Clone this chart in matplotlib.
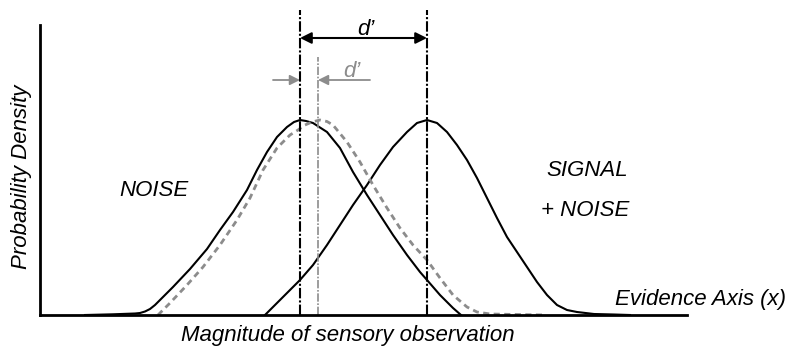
import matplotlib
matplotlib.use("Agg")
import matplotlib.pyplot as plt

plt.rcParams['font.family'] = ['Liberation Sans', 'DejaVu Sans']

# curves (x = evidence, y = density, arbitrary units)
noise_x = [85, 113, 135, 140, 145, 150, 155, 160, 166, 173, 190, 207, 220, 233, 247, 257, 267,
           277, 287, 294, 300, 306, 313, 327, 340, 353, 367, 380, 393, 407, 420, 427, 440,
           447, 453, 457, 461]
noise_y = [0, 0.7, 1.5, 2, 3.5, 6, 10, 15, 21, 28, 46, 66, 85, 103, 125, 145, 163,
           178, 188, 193, 195, 194, 192, 183, 167, 143, 120, 100, 80, 60, 43, 35, 20,
           13, 7, 3.5, 0]

shifted_x = [158, 170, 187, 203, 220, 237, 250, 263, 277, 290, 298, 305, 312, 320,
             327, 333, 347, 360, 373, 387, 400, 413, 427, 440, 453, 467, 477, 490, 517, 545]
shifted_y = [0, 12, 30, 48, 70, 95, 117, 145, 167, 180, 185, 190, 193, 195,
             193.5, 190, 173, 153, 130, 107, 87, 70, 55, 37, 20, 8, 3, 1, 0.5, 0]

signal_x = [265, 283, 300, 313, 327, 340, 353, 367, 380, 393, 407, 417, 427, 437, 447,
            457, 467, 477, 487, 497, 507, 517, 527, 537, 547, 557, 567, 577, 594, 614, 630]
signal_y = [0, 18, 35, 50, 70, 90, 110, 130, 150, 168, 183, 192, 195, 192, 183,
            170, 155, 137, 117, 97, 78, 63, 48, 33, 20, 10, 5, 3, 1, 0.5, 0]

noise_mean = 300
shifted_mean = 318
signal_mean = 427

fig = plt.figure(figsize=(7.92, 3.47), dpi=100)
ax = fig.add_axes([40 / 792, 32 / 347, 647 / 792, 290 / 347])
ax.set_xlim(40, 687)
ax.set_ylim(0, 290)
for s in ['top', 'right']:
    ax.spines[s].set_visible(False)
for s in ['left', 'bottom']:
    ax.spines[s].set_linewidth(2)
ax.set_xticks([])
ax.set_yticks([])

ax.plot(noise_x, noise_y, color='black', lw=1.5, solid_joinstyle='round')
ax.plot(signal_x, signal_y, color='black', lw=1.5, solid_joinstyle='round')
ax.plot(shifted_x, shifted_y, color='#8c8c8c', lw=2, linestyle=(0, (2.2, 1.6)))

# mean markers
ax.plot([noise_mean, noise_mean], [0, 305], color='black', lw=1.5,
        linestyle=(0, (5, 1, 1, 1)), clip_on=False)
ax.plot([signal_mean, signal_mean], [0, 305], color='black', lw=1.5,
        linestyle=(0, (5, 1, 1, 1)), clip_on=False)
ax.plot([shifted_mean, shifted_mean], [0, 258], color='#8c8c8c', lw=1.2,
        linestyle=(0, (5, 1, 1, 1)), clip_on=False)

# d' arrows
ax.annotate('', xy=(noise_mean, 277), xytext=(signal_mean, 277),
            arrowprops=dict(arrowstyle='<|-|>', color='black', lw=1.5,
                            mutation_scale=17, shrinkA=0, shrinkB=0),
            annotation_clip=False)
ax.text(366, 280, "d\u2019", fontsize=16, style='italic',
        ha='center', va='baseline')

ax.annotate('', xy=(noise_mean, 235), xytext=(273, 235),
            arrowprops=dict(arrowstyle='-|>', color='#8c8c8c', lw=1.3,
                            mutation_scale=15, shrinkA=0, shrinkB=0),
            annotation_clip=False)
ax.annotate('', xy=(shifted_mean, 235), xytext=(370, 235),
            arrowprops=dict(arrowstyle='-|>', color='#8c8c8c', lw=1.3,
                            mutation_scale=15, shrinkA=0, shrinkB=0),
            annotation_clip=False)
ax.text(352, 238, "d\u2019", fontsize=16, style='italic', color='#8c8c8c',
        ha='center', va='baseline')

# labels
ax.text(154, 124, 'NOISE', fontsize=16, style='italic', ha='center', va='center')
ax.text(587, 144, 'SIGNAL', fontsize=16, style='italic', ha='center', va='center')
ax.text(585, 105, '+ NOISE', fontsize=16, style='italic', ha='center', va='center')
ax.text(615, 15, 'Evidence Axis (x)', fontsize=16, style='italic',
        ha='left', va='center', clip_on=False)

fig.text(348 / 792, 1 - 335 / 347, 'Magnitude of sensory observation',
         fontsize=16, style='italic', ha='center', va='center')
fig.text(22 / 792, 1 - 177 / 347, 'Probability Density', fontsize=16,
         style='italic', rotation=90, ha='center', va='center')

fig.savefig('out.png', dpi=100)
